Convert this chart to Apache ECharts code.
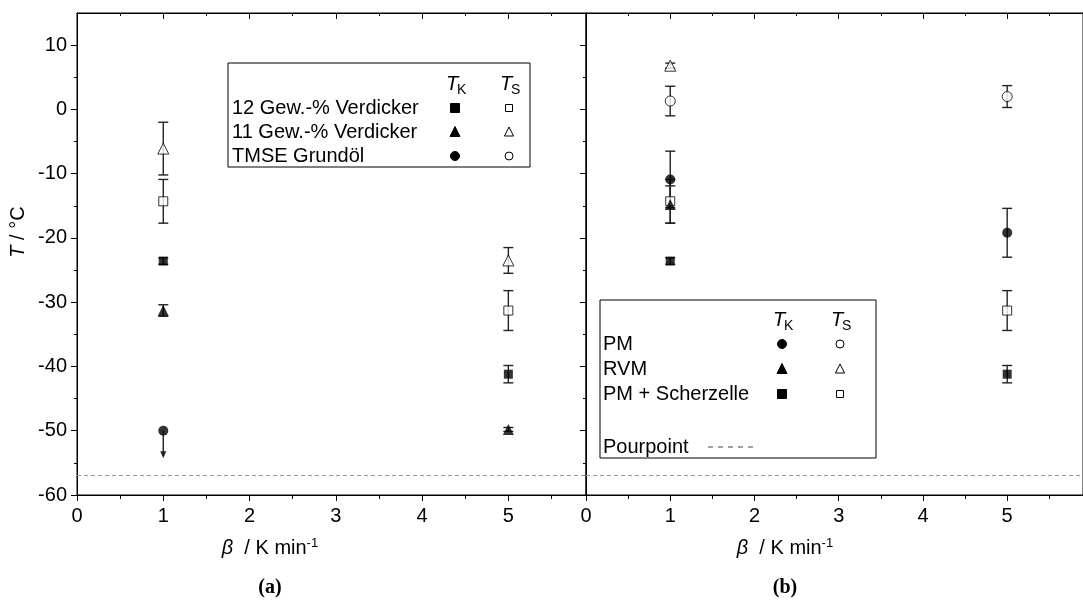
<!DOCTYPE html>
<html>
<head>
<meta charset="utf-8">
<script src="https://cdn.jsdelivr.net/npm/echarts@6/dist/echarts.min.js"></script>
<style>
  html, body { margin: 0; padding: 0; background: #fff; }
  #chart { width: 1083px; height: 605px; }
</style>
</head>
<body>
<div id="chart"></div>
<script>
// Heating rate beta (K/min)
const beta = [1, 5];

// Panel (a): thickener content series, T_K (filled) and T_S (open), with +/- errors
const g12_TK = [-23.6, -41.2];  const g12_TK_err = [0.5, 1.35];
const g12_TS = [-14.3, -31.3];  const g12_TS_err = [3.4, 3.1];
const g11_TK = [-31.3, -49.8];  const g11_TK_err = [0.9, 0.3];
const g11_TS = [-6.1, -23.5];   const g11_TS_err = [4.1, 2.0];
const tmse_TK = [-50.0, null];  // below detection: arrow points down
const tmse_arrowEnd = [-54.3, null];

// Panel (b): measuring methods
const pm_TK = [-10.9, -19.2];   const pm_TK_err = [4.4, 3.8];
const pm_TS = [1.3, 2.0];       const pm_TS_err = [2.3, 1.7];
const rvm_TK = [-14.8, null];   const rvm_TK_err = [2.9, null];
const rvm_TS = [6.8, null];     const rvm_TS_err = [0.4, null];
const pms_TK = [-23.6, -41.2];  const pms_TK_err = [0.5, 1.35];
const pms_TS = [-14.3, -31.3];  const pms_TS_err = [3.4, 3.1];

const pourpoint = -57;

// Axis ticks
const yMajor = [-60, -50, -40, -30, -20, -10, 0, 10];
const yMinor = [-55, -45, -35, -25, -15, -5, 5];
const xMajor = [0, 1, 2, 3, 4, 5];
const xMinor = [0.5, 1.5, 2.5, 3.5, 4.5, 5.5];

const FONT = "'Liberation Sans', Arial, sans-serif";
const INK = '#000';

function pts(vals) {
  const out = [];
  beta.forEach((b, i) => { if (vals[i] != null) out.push([b, vals[i]]); });
  return out;
}
function bars(vals, errs) {
  const out = [];
  beta.forEach((b, i) => {
    if (vals[i] != null && errs[i] != null) out.push([b, vals[i] - errs[i], vals[i] + errs[i]]);
  });
  return out;
}

function errRender(params, api) {
  const x = api.value(0), lo = api.value(1), hi = api.value(2);
  const a = api.coord([x, hi]), b = api.coord([x, lo]);
  const w = 5;
  const st = { stroke: '#222', lineWidth: 1.4 };
  return {
    type: 'group',
    children: [
      { type: 'line', shape: { x1: a[0], y1: a[1], x2: b[0], y2: b[1] }, style: st },
      { type: 'line', shape: { x1: a[0] - w, y1: a[1], x2: a[0] + w, y2: a[1] }, style: st },
      { type: 'line', shape: { x1: b[0] - w, y1: b[1], x2: b[0] + w, y2: b[1] }, style: st }
    ]
  };
}
function arrowRender(params, api) {
  const x = api.value(0), from = api.value(1), to = api.value(2);
  const a = api.coord([x, from]), b = api.coord([x, to]);
  const st = { stroke: '#222', lineWidth: 1.4 };
  return {
    type: 'group',
    children: [
      { type: 'line', shape: { x1: a[0], y1: a[1], x2: b[0], y2: b[1] - 6 }, style: st },
      { type: 'polygon', shape: { points: [[b[0] - 3, b[1] - 7], [b[0] + 3, b[1] - 7], [b[0], b[1]]] }, style: { fill: '#222' } }
    ]
  };
}

function errSeries(data, xi, yi) {
  return {
    type: 'custom', xAxisIndex: xi, yAxisIndex: yi, z: 2,
    renderItem: errRender, data: data, encode: { x: 0, y: [1, 2] }, silent: true
  };
}
function markSeries(data, xi, yi, shape, filled) {
  const size = shape === 'rect' ? 9 : (shape === 'triangle' ? 11 : 10);
  return {
    type: 'scatter', xAxisIndex: xi, yAxisIndex: yi, z: 5,
    symbol: shape, symbolSize: size, data: data, silent: true,
    itemStyle: filled ? { color: INK } : { color: '#fff', borderColor: INK, borderWidth: 1 }
  };
}
function pourLine(xi, yi) {
  return {
    type: 'scatter', xAxisIndex: xi, yAxisIndex: yi, data: [], silent: true,
    markLine: {
      silent: true, symbol: 'none', label: { show: false },
      lineStyle: { type: [4, 3], color: '#9a9a9a', width: 1 },
      data: [{ yAxis: pourpoint }]
    }
  };
}

// Axis helpers
function xAx(grid, pos, values, len, inside, labels) {
  return {
    type: 'value', gridIndex: grid, position: pos, min: 0, max: 5.9,
    axisLine: { show: true, onZero: false, lineStyle: { color: INK, width: 1 } },
    axisTick: { show: true, inside: inside, length: len, customValues: values, lineStyle: { color: INK, width: 1 } },
    axisLabel: labels ? { show: true, customValues: xMajor, color: INK, fontFamily: FONT, fontSize: 20, margin: 11 } : { show: false },
    splitLine: { show: false }
  };
}
function yAx(grid, values, len, labels) {
  return {
    type: 'value', gridIndex: grid, position: 'left', min: -60, max: 15,
    axisLine: { show: true, onZero: false, lineStyle: { color: INK, width: 1 } },
    axisTick: { show: true, inside: false, length: len, customValues: values, lineStyle: { color: INK, width: 1 } },
    axisLabel: labels ? { show: true, customValues: yMajor, color: INK, fontFamily: FONT, fontSize: 20, margin: 10 } : { show: false },
    splitLine: { show: false }
  };
}

const chart = echarts.init(document.getElementById('chart'), null, { renderer: 'canvas' });

// Legend drawing helpers (graphic elements)
const LZ = 20;
function legendMarker(shape, filled, cx, cy) {
  const fill = filled ? INK : '#fff';
  const style = { fill: fill, stroke: INK, lineWidth: 1 };
  if (shape === 'rect') {
    const s = filled ? 9 : 7;
    return { type: 'rect', z: LZ, shape: { x: cx - s / 2, y: cy - s / 2, width: s, height: s }, style: style };
  }
  if (shape === 'circle') {
    return { type: 'circle', z: LZ, shape: { cx: cx, cy: cy, r: filled ? 4.5 : 4 }, style: style };
  }
  const h = filled ? 9 : 8;
  return { type: 'polygon', z: LZ, shape: { points: [[cx, cy - h / 2 - 1], [cx + h / 2 + 0.5, cy + h / 2], [cx - h / 2 - 0.5, cy + h / 2]] }, style: style };
}
function headerTxt(sub, cx, cy) {
  return [
    { type: 'text', z: LZ, x: cx - 9, y: cy, style: { text: 'T', font: 'italic 20px ' + FONT, fill: INK, textAlign: 'left', textVerticalAlign: 'middle' } },
    { type: 'text', z: LZ, x: cx + 2, y: cy + 6, style: { text: sub, font: '14px ' + FONT, fill: INK, textAlign: 'left', textVerticalAlign: 'middle' } }
  ];
}
function rowTxt(t, x, y) {
  return { type: 'text', z: LZ, x: x, y: y, style: { text: t, font: '20px ' + FONT, fill: INK, textAlign: 'left', textVerticalAlign: 'middle' } };
}

const legA = { x: 228, y: 63, w: 302, h: 104, c1: 455, c2: 509 };
const legB = { x: 600, y: 300, w: 276, h: 158, c1: 782, c2: 840 };

const graphics = [
  // legend (a)
  { type: 'rect', z: LZ - 1, shape: { x: legA.x, y: legA.y, width: legA.w, height: legA.h }, style: { fill: '#fff', stroke: INK, lineWidth: 1 } },
  ...headerTxt('K', legA.c1, 84), ...headerTxt('S', legA.c2, 84),
  rowTxt('12 Gew.-% Verdicker', 232, 108), legendMarker('rect', true, legA.c1, 108), legendMarker('rect', false, legA.c2, 108),
  rowTxt('11 Gew.-% Verdicker', 232, 132), legendMarker('triangle', true, legA.c1, 132), legendMarker('triangle', false, legA.c2, 132),
  rowTxt('TMSE Grundöl', 232, 156), legendMarker('circle', true, legA.c1, 156), legendMarker('circle', false, legA.c2, 156),
  // legend (b)
  { type: 'rect', z: LZ - 1, shape: { x: legB.x, y: legB.y, width: legB.w, height: legB.h }, style: { fill: '#fff', stroke: INK, lineWidth: 1 } },
  ...headerTxt('K', legB.c1, 320), ...headerTxt('S', legB.c2, 320),
  rowTxt('PM', 603, 344), legendMarker('circle', true, legB.c1, 344), legendMarker('circle', false, legB.c2, 344),
  rowTxt('RVM', 603, 369), legendMarker('triangle', true, legB.c1, 369), legendMarker('triangle', false, legB.c2, 369),
  rowTxt('PM + Scherzelle', 603, 394), legendMarker('rect', true, legB.c1, 394), legendMarker('rect', false, legB.c2, 394),
  rowTxt('Pourpoint', 603, 447),
  { type: 'line', z: LZ, shape: { x1: 708, y1: 447, x2: 754, y2: 447 }, style: { stroke: '#444', lineWidth: 1, lineDash: [5, 5] } },
  // axis titles
  { type: 'text', x: 18, y: 232, rotation: Math.PI / 2,
    style: { text: '{it|T} / °C', rich: { it: { fontStyle: 'italic', fontFamily: FONT, fontSize: 20 } }, font: '20px ' + FONT, fill: INK, textAlign: 'center', textVerticalAlign: 'middle' } },
  { type: 'text', x: 270, y: 548,
    style: { text: '{it|β}  / K min{sup|-1}', rich: { it: { fontStyle: 'italic', fontFamily: FONT, fontSize: 20 }, sup: { fontSize: 13, fontFamily: FONT, verticalAlign: 'top', padding: [0, 0, 10, 0] } }, font: '20px ' + FONT, fill: INK, textAlign: 'center', textVerticalAlign: 'middle' } },
  { type: 'text', x: 785, y: 548,
    style: { text: '{it|β}  / K min{sup|-1}', rich: { it: { fontStyle: 'italic', fontFamily: FONT, fontSize: 20 }, sup: { fontSize: 13, fontFamily: FONT, verticalAlign: 'top', padding: [0, 0, 10, 0] } }, font: '20px ' + FONT, fill: INK, textAlign: 'center', textVerticalAlign: 'middle' } },
  { type: 'text', x: 270, y: 588, style: { text: '(a)', font: 'bold 20px "Liberation Serif", "Times New Roman", serif', fill: INK, textAlign: 'center', textVerticalAlign: 'middle' } },
  { type: 'text', x: 785, y: 588, style: { text: '(b)', font: 'bold 20px "Liberation Serif", "Times New Roman", serif', fill: INK, textAlign: 'center', textVerticalAlign: 'middle' } }
];

const option = {
  animation: false,
  backgroundColor: '#fff',
  grid: [
    { left: 77, top: 13, width: 509, bottom: 110, show: true, borderColor: INK, borderWidth: 1, backgroundColor: 'transparent' },
    { left: 586, top: 13, width: 509, bottom: 110, show: true, borderColor: INK, borderWidth: 1, backgroundColor: 'transparent' }
  ],
  xAxis: [
    xAx(0, 'bottom', xMajor, 6, false, true),
    xAx(0, 'bottom', xMinor, 4, false, false),
    xAx(0, 'top', xMajor, 6, true, false),
    xAx(0, 'top', xMinor, 3, true, false),
    xAx(1, 'bottom', xMajor, 6, false, true),
    xAx(1, 'bottom', xMinor, 4, false, false),
    xAx(1, 'top', xMajor, 6, true, false),
    xAx(1, 'top', xMinor, 3, true, false)
  ],
  yAxis: [
    yAx(0, yMajor, 6, true),
    yAx(0, yMinor, 3, false),
    yAx(1, yMajor, 6, false),
    yAx(1, yMinor, 3, false)
  ],
  series: [
    pourLine(0, 0),
    pourLine(4, 2),
    // panel (a)
    errSeries(bars(g12_TK, g12_TK_err), 0, 0),
    errSeries(bars(g12_TS, g12_TS_err), 0, 0),
    errSeries(bars(g11_TK, g11_TK_err), 0, 0),
    errSeries(bars(g11_TS, g11_TS_err), 0, 0),
    {
      type: 'custom', xAxisIndex: 0, yAxisIndex: 0, z: 2, silent: true, renderItem: arrowRender,
      encode: { x: 0, y: [1, 2] },
      data: beta.map((b, i) => (tmse_TK[i] != null ? [b, tmse_TK[i], tmse_arrowEnd[i]] : null)).filter(Boolean)
    },
    markSeries(pts(g12_TK), 0, 0, 'rect', true),
    markSeries(pts(g12_TS), 0, 0, 'rect', false),
    markSeries(pts(g11_TK), 0, 0, 'triangle', true),
    markSeries(pts(g11_TS), 0, 0, 'triangle', false),
    markSeries(pts(tmse_TK), 0, 0, 'circle', true),
    // panel (b)
    errSeries(bars(pm_TK, pm_TK_err), 4, 2),
    errSeries(bars(pm_TS, pm_TS_err), 4, 2),
    errSeries(bars(rvm_TK, rvm_TK_err), 4, 2),
    errSeries(bars(rvm_TS, rvm_TS_err), 4, 2),
    errSeries(bars(pms_TK, pms_TK_err), 4, 2),
    errSeries(bars(pms_TS, pms_TS_err), 4, 2),
    markSeries(pts(pms_TK), 4, 2, 'rect', true),
    markSeries(pts(pms_TS), 4, 2, 'rect', false),
    markSeries(pts(rvm_TK), 4, 2, 'triangle', true),
    markSeries(pts(rvm_TS), 4, 2, 'triangle', false),
    markSeries(pts(pm_TK), 4, 2, 'circle', true),
    markSeries(pts(pm_TS), 4, 2, 'circle', false)
  ],
  graphic: graphics
};
chart.setOption(option);
</script>
</body>
</html>
